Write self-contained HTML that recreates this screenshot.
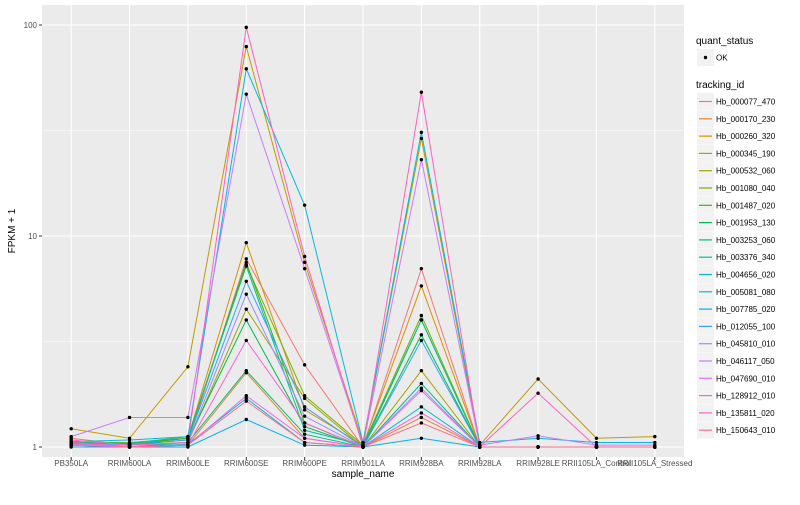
<!DOCTYPE html>
<html><head><meta charset="utf-8"><style>
body{margin:0;background:#fff;font-family:"Liberation Sans",sans-serif;}
svg text{font-family:"Liberation Sans",sans-serif;}
</style></head><body>
<svg id="c" width="800" height="500" xmlns="http://www.w3.org/2000/svg"></svg>
<script>
const categories=["PB350LA","RRIM600LA","RRIM600LE","RRIM600SE","RRIM600PE","RRIM901LA","RRIM928BA","RRIM928LA","RRIM928LE","RRII105LA_Control","RRII105LA_Stressed"];
const seriesNames=["Hb_000077_470","Hb_000170_230","Hb_000260_320","Hb_000345_190","Hb_000532_060","Hb_001080_040","Hb_001487_020","Hb_001953_130","Hb_003253_060","Hb_003376_340","Hb_004656_020","Hb_005081_080","Hb_007785_020","Hb_012055_100","Hb_045810_010","Hb_046117_050","Hb_047690_010","Hb_128912_010","Hb_135811_020","Hb_150643_010"];
const colors=["#F8766D","#EA8331","#D89000","#C09B00","#A3A500","#7CAE00","#39B600","#00BB4E","#00BF7D","#00C1A3","#00BFC4","#00BAE0","#00B0F6","#35A2FF","#9590FF","#C77CFF","#E76BF3","#FA62DB","#FF62BC","#FF6C91"];
const values=[
[1.1,1.02,1.05,7.8,2.45,1.0,7.0,1.0,1.0,1.0,1.0],
[1.02,1.0,1.02,2.25,1.1,1.0,1.38,1.0,1.0,1.0,1.0],
[1.05,1.03,1.1,9.3,1.5,1.02,5.8,1.0,1.0,1.0,1.0],
[1.22,1.1,2.4,79,7.5,1.05,29,1.02,2.1,1.1,1.12],
[1.03,1.02,1.05,4.5,1.7,1.0,2.3,1.0,1.0,1.0,1.0],
[1.05,1.05,1.1,7.3,1.75,1.02,4.2,1.0,1.0,1.0,1.0],
[1.04,1.03,1.1,7.5,1.3,1.0,4.0,1.0,1.0,1.0,1.0],
[1.03,1.02,1.08,4.0,1.25,1.0,3.4,1.0,1.0,1.0,1.0],
[1.02,1.0,1.05,2.3,1.15,1.0,2.0,1.0,1.0,1.0,1.0],
[1.05,1.04,1.12,7.2,1.2,1.02,4.0,1.0,1.0,1.0,1.0],
[1.02,1.0,1.03,1.7,1.05,1.0,1.55,1.0,1.0,1.0,1.0],
[1.06,1.08,1.12,62,14,1.05,31,1.05,1.1,1.05,1.05],
[1.0,1.0,1.0,1.35,1.02,1.0,1.1,1.0,1.0,1.0,1.0],
[1.04,1.03,1.08,6.1,1.55,1.0,3.2,1.0,1.0,1.0,1.0],
[1.03,1.02,1.05,5.3,1.4,1.0,1.9,1.0,1.0,1.0,1.0],
[1.12,1.38,1.38,47,7.0,1.02,23,1.02,1.13,1.02,1.02],
[1.02,1.0,1.02,1.75,1.1,1.0,1.85,1.0,1.0,1.0,1.0],
[1.03,1.0,1.02,3.2,1.3,1.0,1.45,1.0,1.0,1.0,1.0],
[1.08,1.02,1.05,97.5,8.0,1.0,48,1.0,1.8,1.0,1.0],
[1.05,1.0,1.02,1.65,1.05,1.0,1.3,1.0,1.0,1.0,1.0]
];
const yTicks=[1,10,100];
const yTickLabels=["1","10","100"];
const NS="http://www.w3.org/2000/svg";
const svg=document.getElementById("c");
function mk(t,a,p){const e=document.createElementNS(NS,t);for(const k in a)e.setAttribute(k,a[k]);(p||svg).appendChild(e);return e;}
const L=42,R=684,T=5,B=457;
const x=i=>L+(R-L)/categories.length*(i+0.5);
const y=v=>447-211*Math.log10(v);
let p=mk("rect",{x:L,y:T,width:R-L,height:B-T,fill:"#EBEBEB"});


[Math.sqrt(10),Math.sqrt(1000)].forEach(v=>mk("line",{x1:L,x2:R,y1:y(v),y2:y(v),stroke:"#fff","stroke-width":0.5}));
yTicks.forEach((v,i)=>{
 mk("line",{x1:L,x2:R,y1:y(v),y2:y(v),stroke:"#fff","stroke-width":1.1});
 mk("line",{x1:L-3,x2:L,y1:y(v),y2:y(v),stroke:"#333","stroke-width":1});
 const t=mk("text",{x:L-5,y:y(v)+3,"text-anchor":"end","font-size":8,fill:"#4D4D4D"});t.textContent=yTickLabels[i];
 
 
});
categories.forEach((c,i)=>{
 mk("line",{x1:x(i),x2:x(i),y1:T,y2:B,stroke:"#fff","stroke-width":1.1});
 mk("line",{x1:x(i),x2:x(i),y1:B,y2:B+3,stroke:"#333","stroke-width":1});
 const t=mk("text",{x:x(i),y:B+9,"text-anchor":"middle","font-size":8,fill:"#4D4D4D"});t.textContent=c;
 
 
});
values.forEach((s,si)=>{
 const l=mk("polyline",{points:s.map((v,i)=>x(i)+","+y(v)).join(" "),fill:"none",stroke:colors[si],"stroke-width":1});
 
 
});
values.forEach(s=>s.forEach((v,i)=>{
 const c=mk("circle",{cx:x(i),cy:y(v),r:1.7,fill:"#000"});
 
 
}));
let t=mk("text",{x:(L+R)/2,y:477,"text-anchor":"middle","font-size":10,fill:"#000"});t.textContent="sample_name";


t=mk("text",{x:15,y:231,"text-anchor":"middle","font-size":10,fill:"#000",transform:"rotate(-90 15 231)"});t.textContent="FPKM + 1";


t=mk("text",{x:696,y:44,"font-size":10,fill:"#000"});t.textContent="quant_status";


mk("rect",{x:697,y:49,width:17,height:17,fill:"#F2F2F2"});
mk("circle",{cx:705.5,cy:57.5,r:1.7,fill:"#000"});
t=mk("text",{x:716,y:60.5,"font-size":8,fill:"#000"});t.textContent="OK";


t=mk("text",{x:696,y:88,"font-size":10,fill:"#000"});t.textContent="tracking_id";


seriesNames.forEach((n,i)=>{
 const yy=93+i*17.3;
 mk("rect",{x:697,y:yy,width:17,height:17,fill:"#F2F2F2"});
 mk("line",{x1:699,x2:712,y1:yy+8.5,y2:yy+8.5,stroke:colors[i],"stroke-width":1.2});
 const e=mk("text",{x:716,y:yy+11.5,"font-size":8,fill:"#000"});e.textContent=n;
 
 
});
</script>
</body></html>
